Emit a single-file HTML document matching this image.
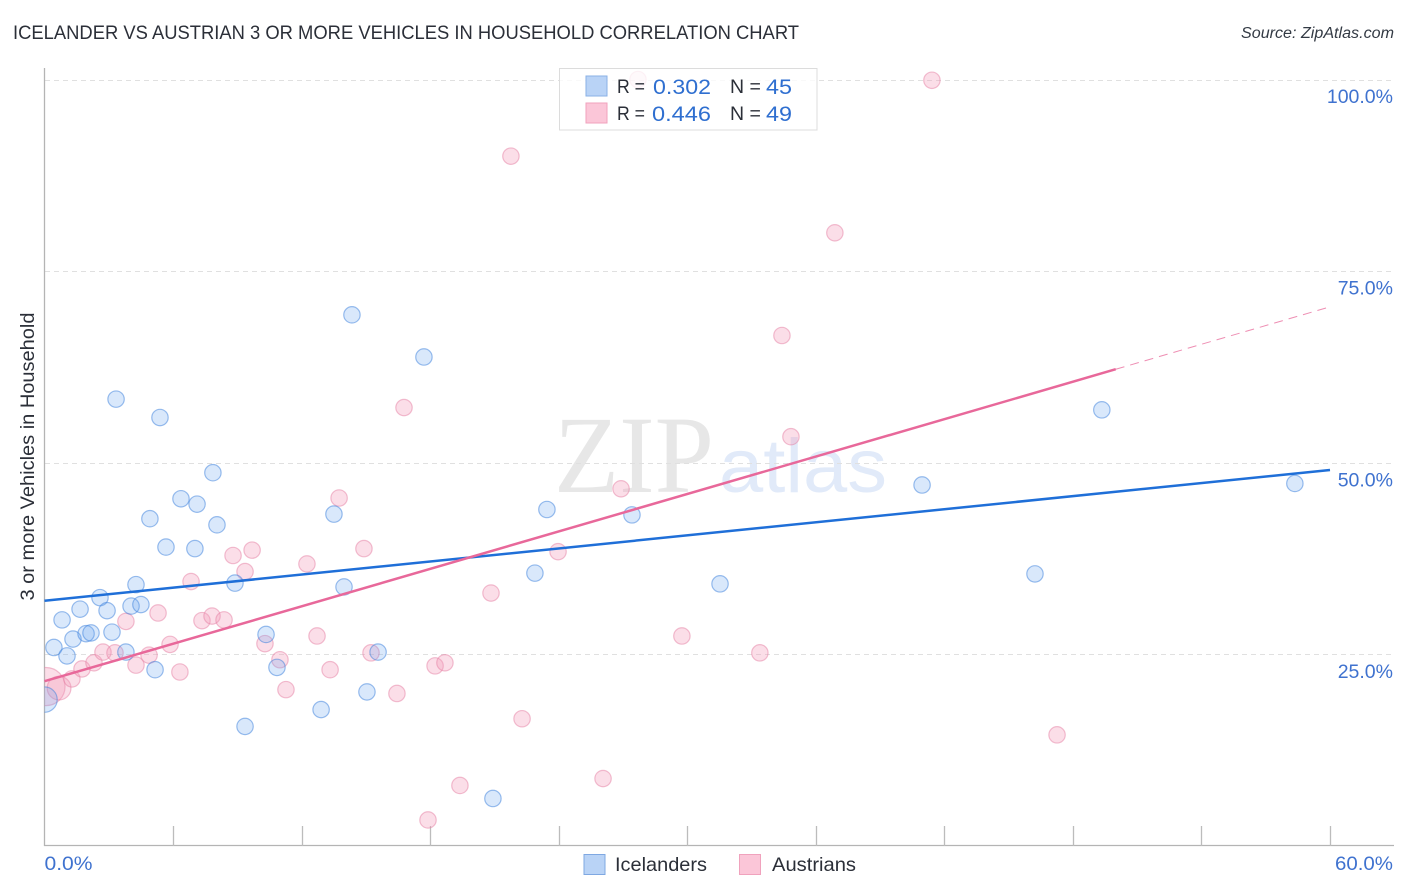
<!DOCTYPE html>
<html lang="en">
<head>
<meta charset="utf-8">
<title>Icelander vs Austrian 3 or More Vehicles in Household Correlation Chart</title>
<style>
html,body{margin:0;padding:0;background:#fff;width:1406px;height:892px;overflow:hidden}
svg{display:block}
text{font-family:"Liberation Sans",sans-serif}
</style>
</head>
<body>
<svg id="chart" width="1406" height="892" viewBox="0 0 1406 892" xmlns="http://www.w3.org/2000/svg">
  <defs>
    <clipPath id="plot-clip"><rect x="44.5" y="60" width="1360" height="786"></rect></clipPath>
  </defs>
  <text x="13" y="39" font-size="19.5" fill="#2b2f38" textLength="786" lengthAdjust="spacingAndGlyphs">ICELANDER VS AUSTRIAN 3 OR MORE VEHICLES IN HOUSEHOLD CORRELATION CHART</text>
  <text x="1394" y="38" font-size="15.5" font-style="italic" fill="#333a44" text-anchor="end" textLength="153" lengthAdjust="spacingAndGlyphs">Source: ZipAtlas.com</text>

  <g>
    <text x="554" y="492" font-size="110" fill="#e7e7e7" style="font-family:'Liberation Serif',serif" textLength="160" lengthAdjust="spacingAndGlyphs">ZIP</text>
    <text x="719" y="492" font-size="76" fill="#e1eaf9" style="font-family:'Liberation Sans',sans-serif" textLength="168" lengthAdjust="spacingAndGlyphs">atlas</text>
  </g>

  <g id="grid"></g>
  <g id="axes"></g>
  <g id="points" clip-path="url(#plot-clip)"></g>
  <g id="trends"></g>
  <g id="labels"></g>

  <text transform="translate(34,456.5) rotate(-90)" font-size="19" fill="#2b2f38" text-anchor="middle" textLength="288" lengthAdjust="spacingAndGlyphs">3 or more Vehicles in Household</text>

  <g>
    <rect x="559.5" y="68.5" width="257.5" height="61.5" fill="#fff" fill-opacity="0.8" stroke="#dcdcdc" stroke-width="1"></rect>
    <rect x="586" y="76" width="21" height="20" fill="#b9d3f6" stroke="#8ab0e6" stroke-width="1"></rect>
    <rect x="586" y="103" width="21" height="20" fill="#fbc6d8" stroke="#f0a2bd" stroke-width="1"></rect>
    <text x="617" y="93" font-size="19.5" fill="#2b2f38" textLength="28" lengthAdjust="spacingAndGlyphs">R =</text>
    <text x="653" y="94" font-size="21.5" fill="#2f6fd0" textLength="58" lengthAdjust="spacingAndGlyphs">0.302</text>
    <text x="730" y="93" font-size="19.5" fill="#2b2f38">N =</text>
    <text x="766" y="94" font-size="21.5" fill="#2f6fd0" textLength="26" lengthAdjust="spacingAndGlyphs">45</text>
    <text x="617" y="120" font-size="19.5" fill="#2b2f38" textLength="28" lengthAdjust="spacingAndGlyphs">R =</text>
    <text x="652" y="121" font-size="21.5" fill="#2f6fd0" textLength="59" lengthAdjust="spacingAndGlyphs">0.446</text>
    <text x="730" y="120" font-size="19.5" fill="#2b2f38">N =</text>
    <text x="766" y="121" font-size="21.5" fill="#2f6fd0" textLength="26" lengthAdjust="spacingAndGlyphs">49</text>
  </g>

  <g>
    <rect x="584" y="854.5" width="21" height="20" fill="#b9d3f6" stroke="#7fa8e2" stroke-width="1"></rect>
    <text x="615" y="871" font-size="19.5" fill="#2b2f38" textLength="92" lengthAdjust="spacingAndGlyphs">Icelanders</text>
    <rect x="739.5" y="854.5" width="21" height="20" fill="#fbc6d8" stroke="#f0a2bd" stroke-width="1"></rect>
    <text x="772" y="871" font-size="19.5" fill="#2b2f38" textLength="84" lengthAdjust="spacingAndGlyphs">Austrians</text>
  </g>
</svg>

<script>
var yTickValues = [25, 50, 75, 100];
var yTickLabels = ["25.0%", "50.0%", "75.0%", "100.0%"];
var xTickValues = [0, 6, 12, 18, 24, 30, 36, 42, 48, 54, 60];
var xEdgeLabels = ["0.0%", "60.0%"];

var icelanderX = [0.0,0.44,0.82,1.05,1.33,1.66,1.94,2.17,2.59,2.92,3.15,3.34,3.80,4.04,4.27,4.50,4.92,5.16,5.39,5.67,6.37,7.02,7.12,7.86,8.05,8.89,9.36,10.34,10.85,12.91,13.51,13.98,14.35,15.05,15.57,17.71,20.93,22.89,23.45,27.42,31.53,40.96,46.23,49.35,58.36];
var icelanderY = [19.1,25.9,29.5,24.8,27.0,30.9,27.7,27.8,32.4,30.7,27.9,58.3,25.3,31.3,34.1,31.5,42.7,23.0,55.9,39.0,45.3,38.8,44.6,48.7,41.9,34.3,15.6,27.6,23.3,17.8,43.3,33.8,69.3,20.1,25.3,63.8,6.2,35.6,43.9,43.2,34.2,47.1,35.5,56.9,47.3];
var icelanderLargeWeights = [2.4];

var austrianX = [0.07,0.68,1.28,1.75,2.31,2.73,3.29,3.80,4.27,4.88,5.30,5.86,6.32,6.84,7.35,7.82,8.38,8.80,9.36,9.69,10.29,10.99,11.27,12.25,12.72,13.33,13.75,14.91,15.24,16.45,16.78,17.90,18.23,18.69,19.39,20.84,21.77,22.29,23.97,26.07,26.91,27.70,29.75,33.39,34.42,34.84,36.89,41.42,47.26];
var austrianY = [20.8,20.6,21.8,23.1,23.9,25.3,25.2,29.3,23.6,24.9,30.4,26.3,22.7,34.5,29.4,30.0,29.5,37.9,35.8,38.6,26.4,24.3,20.4,36.8,27.4,23.0,45.4,38.8,25.2,19.9,57.2,3.4,23.5,23.9,7.9,33.0,90.0,16.6,38.4,8.8,46.6,100,27.4,25.2,66.6,53.4,80.0,99.9,14.5];
var austrianLargeWeights = [5.4, 2.1];

var icelanderTrendIntercept = 32.0;
var icelanderTrendSlope = 0.2842;
var austrianTrendIntercept = 21.5;
var austrianTrendSlope = 0.814;
var trendSolidEndIcelander = 60;
var trendSolidEndAustrian = 50;
var trendDomainEnd = 60;

var NS = 'http://www.w3.org/2000/svg';
function xScale(v){ return 44.5 + v * (1330 - 44.5) / 60; }
function yScale(v){ return 846 - v * (846 - 79.5) / 100; }
function make(tag, attrs, parent){
  var el = document.createElementNS(NS, tag);
  for (var k in attrs) el.setAttribute(k, attrs[k]);
  parent.appendChild(el);
  return el;
}

var gridG = document.getElementById('grid');
var axesG = document.getElementById('axes');
var pointsG = document.getElementById('points');
var trendsG = document.getElementById('trends');
var labelsG = document.getElementById('labels');

yTickValues.forEach(function(v, i){
  var y = Math.round(yScale(v)) + 0.5;
  var line = make('line', {x1:45, x2:1394, y1:y, y2:y, stroke:'#e0e0e0', 'stroke-width':1, 'stroke-dasharray':'5 4'}, gridG);
  
  
  var t = make('text', {x:1393, y:yScale(v) + 23.5, 'font-size':19.5, fill:'#3f72cf', 'text-anchor':'end'}, labelsG);
  t.textContent = yTickLabels[i];
  
  
});

var yAxis = make('line', {x1:44.5, x2:44.5, y1:68, y2:846, stroke:'#b4b4b4', 'stroke-width':1.3}, axesG);


var xAxis = make('line', {x1:44, x2:1394, y1:845.5, y2:845.5, stroke:'#b4b4b4', 'stroke-width':1.3}, axesG);



xTickValues.forEach(function(v){
  if (v === 0) return;
  var x = Math.round(xScale(v)) + 0.5;
  var tick = make('line', {x1:x, x2:x, y1:826, y2:846, stroke:'#bcbcbc', 'stroke-width':1.3}, axesG);
  
  
});

var x0Label = make('text', {x:xScale(xTickValues[0]), y:870, 'font-size':19.5, fill:'#3f72cf', textLength:48, lengthAdjust:'spacingAndGlyphs'}, labelsG);
x0Label.textContent = xEdgeLabels[0];


var x1Label = make('text', {x:1393, y:870, 'font-size':19.5, fill:'#3f72cf', 'text-anchor':'end', textLength:58, lengthAdjust:'spacingAndGlyphs'}, labelsG);
x1Label.textContent = xEdgeLabels[1];



function drawPoints(xs, ys, weights, fill, stroke, fillOp, strokeOp, name){
  xs.forEach(function(v, i){
    var w = i < weights.length ? weights[i] : 1;
    var c = make('circle', {cx:xScale(v), cy:yScale(ys[i]), r:8.2 * Math.sqrt(w), fill:fill, 'fill-opacity':fillOp, stroke:stroke, 'stroke-opacity':strokeOp, 'stroke-width':1.2}, pointsG);
    
    
  });
}
drawPoints(austrianX, austrianY, austrianLargeWeights, '#f39ab8', '#e67fa3', 0.33, 0.5, 'austrian-point');
drawPoints(icelanderX, icelanderY, icelanderLargeWeights, '#6ea6ee', '#3f82dd', 0.26, 0.52, 'icelander-point');

function trendY(a, b, x){ return yScale(a + b * x); }

var blueLine = make('line', {x1:xScale(0), y1:trendY(icelanderTrendIntercept, icelanderTrendSlope, 0), x2:xScale(trendSolidEndIcelander), y2:trendY(icelanderTrendIntercept, icelanderTrendSlope, trendSolidEndIcelander), stroke:'#1f6fd8', 'stroke-width':2.5}, trendsG);



var pinkLine = make('line', {x1:xScale(0), y1:trendY(austrianTrendIntercept, austrianTrendSlope, 0), x2:xScale(trendSolidEndAustrian), y2:trendY(austrianTrendIntercept, austrianTrendSlope, trendSolidEndAustrian), stroke:'#e8689a', 'stroke-width':2.5}, trendsG);



var pinkDash = make('line', {x1:xScale(trendSolidEndAustrian), y1:trendY(austrianTrendIntercept, austrianTrendSlope, trendSolidEndAustrian), x2:xScale(trendDomainEnd), y2:trendY(austrianTrendIntercept, austrianTrendSlope, trendDomainEnd), stroke:'#e8689a', 'stroke-width':1, 'stroke-opacity':0.75, 'stroke-dasharray':'9 6'}, trendsG);


</script>
</body>
</html>
